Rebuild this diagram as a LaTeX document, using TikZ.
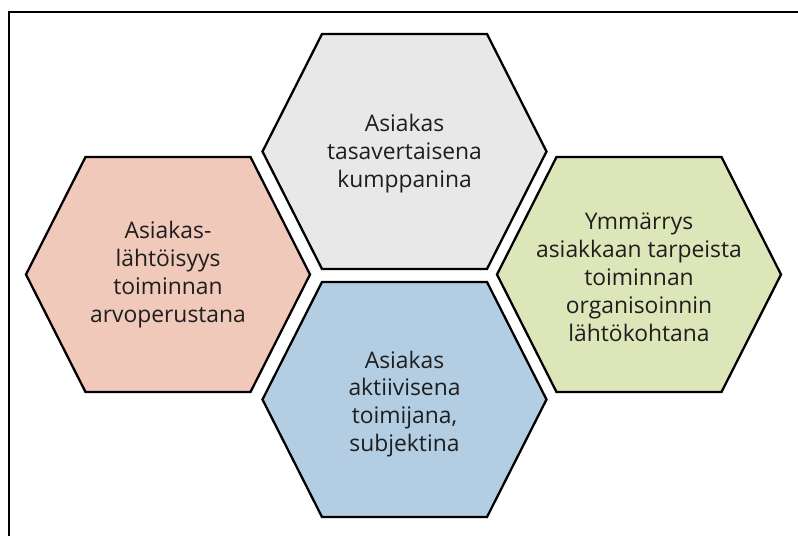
\documentclass[tikz,border=0pt]{standalone}
\usepackage{fontspec}
\setmainfont{Open Sans}
\usepackage{xcolor}
\usepackage{tikz}

\definecolor{hexpink}{HTML}{F0C9BA}
\definecolor{hexgray}{HTML}{E8E8E8}
\definecolor{hexgreen}{HTML}{DDE6B8}
\definecolor{hexblue}{HTML}{B3CEE3}
\definecolor{txtgray}{HTML}{1E1E1E}

\begin{document}
\begin{tikzpicture}[x=0.02cm, y=-0.02cm]
	\tikzset{hexa/.style={draw=black, line width=1.3pt, line join=miter},
		lbl/.style={align=center, text=txtgray, font=\fontsize{13}{15.9}\selectfont}}
	\useasboundingbox (0,0) rectangle (798,536);
	\fill[white] (0,0) rectangle (798,536);
	% frame
	\draw[line width=0.9pt] (9,536) -- (9,12) -- (798,12);
	% hexagons
	\foreach \cx/\cy/\col in {404.5/151.5/hexgray, 168/274.5/hexpink,
		639/274.5/hexgreen, 404.5/399.5/hexblue}
		\draw[hexa, fill=\col] (\cx,\cy) ++(-142,0) -- ++(59.5,-117.5)
			-- ++(165,0) -- ++(59.5,117.5) -- ++(-59.5,117.5)
			-- ++(-165,0) -- cycle;
	% labels
	\node[lbl] (top) at (404.5,154) {Asiakas\\tasavertaisena\\kumppanina};
	\node[lbl] (left) at (168,274.5) {Asiakas-\\lähtöisyys\\toiminnan\\arvoperustana};
	\node[lbl] (right) at (639,277) {Ymmärrys\\asiakkaan tarpeista\\toiminnan\\organisoinnin\\lähtökohtana};
	\node[lbl] (bottom) at (404.5,404) {Asiakas\\aktiivisena\\toimijana,\\subjektina};
\end{tikzpicture}
\end{document}
